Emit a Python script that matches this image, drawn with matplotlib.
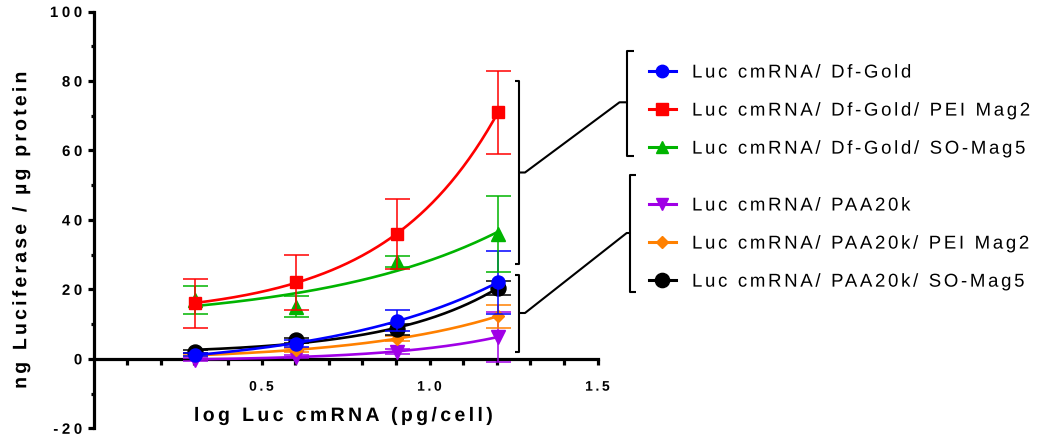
import numpy as np
import matplotlib
matplotlib.use("Agg")
import matplotlib.pyplot as plt
from matplotlib import patheffects
from matplotlib.lines import Line2D
from matplotlib.path import Path
from matplotlib.textpath import text_to_path

# ---- data -------------------------------------------------------------
log_dose = [0.301, 0.602, 0.903, 1.204]

labels = [
    "Luc cmRNA/ Df-Gold",
    "Luc cmRNA/ Df-Gold/ PEI Mag2",
    "Luc cmRNA/ Df-Gold/ SO-Mag5",
    "Luc cmRNA/ PAA20k",
    "Luc cmRNA/ PAA20k/ PEI Mag2",
    "Luc cmRNA/ PAA20k/ SO-Mag5",
]

df_gold = [1.2, 4.3, 11.0, 22.0]
df_gold_err = [0.5, 1.0, 3.0, 9.0]
df_gold_pei = [16.0, 22.0, 36.0, 71.0]
df_gold_pei_err = [7.0, 8.0, 10.0, 12.0]
df_gold_so = [17.0, 15.0, 28.0, 36.0]
df_gold_so_err = [4.0, 3.0, 1.5, 11.0]
paa = [-0.2, 0.6, 2.1, 6.3]
paa_err = [0.3, 0.4, 0.6, 7.1]
paa_pei = [1.0, 2.6, 5.8, 12.3]
paa_pei_err = [0.3, 0.5, 0.8, 3.3]
paa_so = [2.1, 5.3, 8.5, 20.5]
paa_so_err = [0.5, 0.8, 1.5, 2.0]

y_ticks = [-20, 0, 20, 40, 60, 80, 100]
y_tick_labels = ["-20", "0", "20", "40", "60", "80", "100"]
x_ticks = [0.5, 1.0, 1.5]
x_tick_labels = ["0.5", "1.0", "1.5"]

# ---- styles -----------------------------------------------------------
colors = ["#0000ff", "#ff0000", "#00b400", "#a000e6", "#ff8000", "#000000"]
markers = ["o", "s", "^", "v", "D", "o"]
msizes = [9.4, 9.0, 9.6, 9.6, 6.2, 10.8]
values = [df_gold, df_gold_pei, df_gold_so, paa, paa_pei, paa_so]
errors = [df_gold_err, df_gold_pei_err, df_gold_so_err, paa_err, paa_pei_err, paa_so_err]
draw_order = [3, 4, 5, 0, 2, 1]

W, H = 1037, 439


def fx(px):
    return px / W


def fy(py):
    return 1 - py / H


def fit_growth(x, y):
    """Least-squares fit of Y = C + A*exp(k*X)."""
    x = np.asarray(x, float)
    y = np.asarray(y, float)
    best = None
    for k in np.linspace(0.3, 6.0, 2500):
        M = np.column_stack([np.ones_like(x), np.exp(k * x)])
        coef, *_ = np.linalg.lstsq(M, y, rcond=None)
        sse = float(np.sum((M @ coef - y) ** 2))
        if best is None or sse < best[0]:
            best = (sse, k, coef)
    _, k, (c, a) = best
    return lambda t: c + a * np.exp(k * t)


class Tracking(patheffects.AbstractPathEffect):
    """Draw a text with extra letter spacing (in em).

    anchor: 0 keeps the left end fixed, 0.5 the centre, 1 the right end.
    """

    def __init__(self, text, em, anchor=0.0):
        super().__init__()
        self.text = text
        self.em = em
        self.anchor = anchor

    def draw_path(self, renderer, gc, tpath, affine, rgbFace=None):
        path = tpath
        try:
            s = self.text.get_text()
            font = text_to_path._get_font(self.text.get_fontproperties())
            info, gmap, _ = text_to_path.get_glyphs_with_font(font, s)
            step = self.em * text_to_path.FONT_SCALE
            shift = -self.anchor * step * (len(info) - 1)
            verts, codes = [], []
            for i, (gid, xp, yp, sc) in enumerate(info):
                v, c = gmap[gid]
                v = np.asarray(v, float)
                if len(v) == 0:
                    continue
                verts.append(v * sc + [xp + i * step + shift, yp])
                codes.append(np.asarray(c))
            if verts:
                path = Path(np.concatenate(verts), np.concatenate(codes))
        except Exception:
            path = tpath
        renderer.draw_path(gc, path, affine, rgbFace)


plt.rcParams["font.family"] = ["Liberation Sans", "DejaVu Sans"]

fig = plt.figure(figsize=(W / 100, H / 100), dpi=100)
ax = fig.add_axes([fx(93.5), fy(429.3), fx(597.5) - fx(93.5), fy(12.5) - fy(429.3)])
ax.set_xlim(0, 1.5)
ax.set_ylim(-20, 100)

xs = np.linspace(log_dose[0], log_dose[-1], 200)
for z, i in enumerate(draw_order):
    c = colors[i]
    ax.errorbar(log_dose, values[i], yerr=errors[i], fmt="none", ecolor=c,
                elinewidth=1.1, capsize=9, capthick=1.1, zorder=3 + z * 0.1)
    curve = fit_growth(log_dose, values[i])
    ax.plot(xs, curve(xs), color=c, lw=1.9, zorder=3 + z * 0.1 + 0.03)
    ax.plot(log_dose, values[i], ls="none", marker=markers[i], ms=msizes[i],
            color=c, mec=c, zorder=3 + z * 0.1 + 0.05)

# axes styling
for s in ("top", "right"):
    ax.spines[s].set_visible(False)
ax.spines["bottom"].set_position(("data", 0))
ax.spines["left"].set_linewidth(2.3)
ax.spines["bottom"].set_linewidth(2.3)

ax.set_yticks(y_ticks)
ax.set_yticklabels(y_tick_labels)
ax.set_yticks([-10, 10, 30, 50, 70, 90], minor=True)
ax.set_xticks(x_ticks)
ax.set_xticklabels(x_tick_labels)
ax.set_xticks([0.1, 0.2, 0.3, 0.4, 0.6, 0.7, 0.8, 0.9, 1.1, 1.2, 1.3, 1.4], minor=True)

ax.tick_params(axis="y", which="major", length=4.5, width=2.3, pad=3.6,
               labelsize=10.8)
ax.tick_params(axis="y", which="minor", length=2, width=2.3)
ax.tick_params(axis="x", which="both", length=4, width=2.3, direction="out")
ax.tick_params(axis="x", which="major", pad=11, labelsize=10)
for lab in ax.get_yticklabels():
    lab.set_fontweight("bold")
    lab.set_path_effects([Tracking(lab, 0.24, 1.0)])
for lab in ax.get_xticklabels():
    lab.set_fontweight("bold")
    lab.set_path_effects([Tracking(lab, 0.19, 0.5)])

xl = ax.set_xlabel("log Luc cmRNA (pg/cell)", fontsize=14, fontweight="bold",
                   va="baseline", ha="center")
ax.xaxis.set_label_coords(fx(343.5), fy(422), transform=fig.transFigure)
xl.set_path_effects([Tracking(xl, 0.175, 0.5)])
yl = ax.set_ylabel("ng Luciferase / µg protein", fontsize=14, fontweight="bold",
                   va="center", ha="center")
ax.yaxis.set_label_coords(fx(21.7), fy(231), transform=fig.transFigure)
yl.set_path_effects([Tracking(yl, 0.165, 0.5)])


# ---- brackets linking the curve groups to the legend -----------------
def pline(pts, lw=1.5):
    xs_ = [fx(p[0]) for p in pts]
    ys_ = [fy(p[1]) for p in pts]
    fig.add_artist(Line2D(xs_, ys_, transform=fig.transFigure, color="black",
                          lw=lw, solid_joinstyle="round", solid_capstyle="butt"))


# group brackets next to the curves
pline([(514.5, 81.7), (519, 81.7), (519, 264.5), (514.5, 264.5)])
pline([(519, 173.5), (525, 173.5), (619.5, 103.3), (627, 103.3)])
pline([(514.5, 276), (519, 276), (519, 353), (514.5, 353)])
pline([(519, 314), (525, 314), (626.7, 234), (630, 234)])
# brackets beside the legend entries
pline([(634, 51.7), (627, 51.7), (627, 157), (634, 157)])
pline([(636, 176), (630, 176), (630, 292.5), (636, 292.5)])

# ---- legends ----------------------------------------------------------
handles = [Line2D([], [], color=colors[i], marker=markers[i], ms=msizes[i] * 0.95,
                  lw=2.2) for i in range(6)]
leg_kw = dict(loc="upper left", bbox_transform=fig.transFigure, frameon=False,
              borderpad=0, borderaxespad=0, fontsize=13.4, labelspacing=1.13,
              handlelength=1.45, handletextpad=0.86, numpoints=1)
leg1 = fig.legend(handles[:3], labels[:3], bbox_to_anchor=(fx(649), fy(65.5)), **leg_kw)
leg2 = fig.legend(handles[3:], labels[3:], bbox_to_anchor=(fx(649), fy(198.5)), **leg_kw)
for leg in (leg1, leg2):
    for t in leg.get_texts():
        t.set_path_effects([Tracking(t, 0.144, 0.0)])

fig.savefig("out.png", dpi=100)
